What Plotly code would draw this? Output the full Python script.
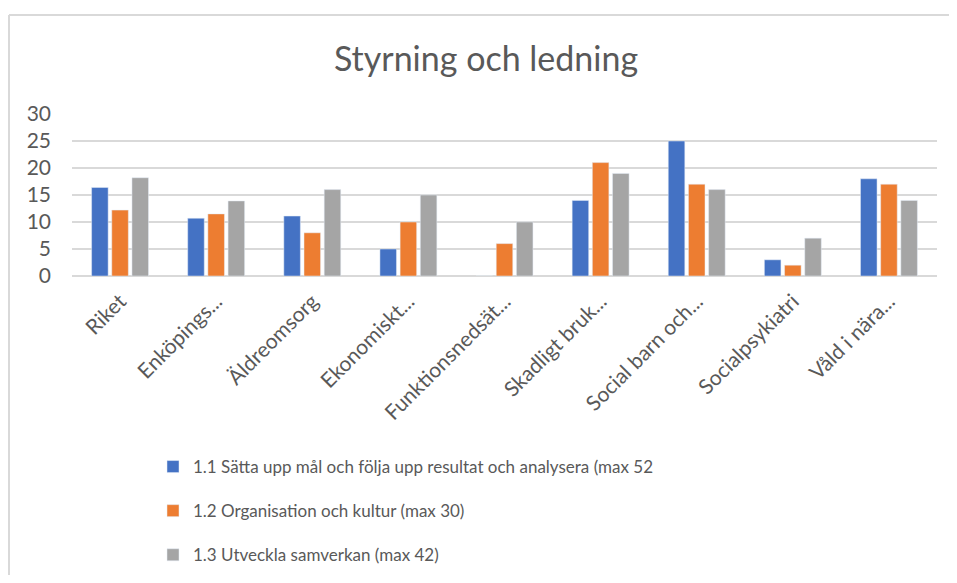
import plotly.graph_objects as go

categories = ["Riket", "Enköpings...", "Äldreomsorg", "Ekonomiskt...", "Funktionsnedsät...",
              "Skadligt bruk...", "Social barn och...", "Socialpsykiatri", "Våld i nära..."]
series_names = ["1.1 Sätta upp mål och följa upp resultat och analysera (max 52",
                "1.2 Organisation och kultur (max 30)",
                "1.3 Utveckla samverkan (max 42)"]
s1 = [16.4, 10.7, 11.1, 5, 0, 14, 25, 3, 18]
s2 = [12.2, 11.5, 8, 10, 6, 21, 17, 2, 17]
s3 = [18.2, 13.9, 16, 15, 10, 19, 16, 7, 14]
colors = ["#4472C4", "#ED7D31", "#A5A5A5"]
y_ticks = [0, 5, 10, 15, 20, 25, 30]

FONT = "Lato"
GRAY = "#595959"

fig = go.Figure()
for i, (name, vals) in enumerate(zip(series_names, [s1, s2, s3])):
    fig.add_trace(go.Bar(x=categories, y=vals, name=name, marker_color=colors[i],
                         legendgroup=f"g{i}", hoverinfo="y"))

# page body has an 8px margin; screen coords -> figure coords
OFF = 8
W, H = 957 - 2 * OFF, 583 - 2 * OFF
# target screen positions of the plot area
left_s, right_s, top_s, bottom_s = 72, 937, 114, 276
ml = left_s - OFF
mt = top_s - OFF
mr = W - (right_s - OFF)
mb = H - (bottom_s - OFF)
pw = W - ml - mr
ph = H - mt - mb

def px_x(p):  # screen px -> paper x
    return (p - OFF - ml) / pw

def px_y(p):  # screen px -> paper y
    return (H - mb - (p - OFF)) / ph

border = dict(color="#d9d9d9", width=2)
fig.update_layout(
    width=W, height=H,
    margin=dict(l=ml, r=mr, t=mt, b=mb, autoexpand=False),
    paper_bgcolor="white", plot_bgcolor="white",
    font=dict(family=FONT, color=GRAY),
    title=dict(text="Styrning och ledning", x=(486 - OFF) / W, xanchor="center",
               y=1 - 51 / H, yanchor="middle",
               font=dict(size=34, family=FONT, color=GRAY)),
    barmode="group", bargap=0.37, bargroupgap=0.18,
    showlegend=True,
    legend=dict(orientation="v", xref="container", yref="container",
                x=(153 - OFF) / W, xanchor="left", y=1 - (449 - OFF) / H, yanchor="top",
                font=dict(size=17, family=FONT, color=GRAY), tracegroupgap=19,
                itemclick=False, itemdoubleclick=False),
    xaxis=dict(tickangle=-45, tickfont=dict(size=21, family=FONT, color=GRAY),
               showgrid=False, showline=False, ticks="", ticklabelstandoff=8,
               automargin=False),
    yaxis=dict(range=[0, 30], tickvals=y_ticks, tickfont=dict(size=21, family=FONT, color=GRAY),
               showgrid=True, gridcolor="#d9d9d9", gridwidth=1.5, zeroline=True,
               zerolinecolor="#d9d9d9", zerolinewidth=1.5, ticks="", ticklabelstandoff=20,
               automargin=False),
    shapes=[
        dict(type="line", xref="paper", yref="paper",
             x0=px_x(9), x1=px_x(9), y0=px_y(H + 2 * OFF + 5), y1=px_y(15), line=border, layer="below"),
        dict(type="line", xref="paper", yref="paper",
             x0=px_x(9), x1=px_x(W + 2 * OFF + 5), y0=px_y(15), y1=px_y(15), line=border, layer="below"),
    ],
)

fig.write_html("out.html")
